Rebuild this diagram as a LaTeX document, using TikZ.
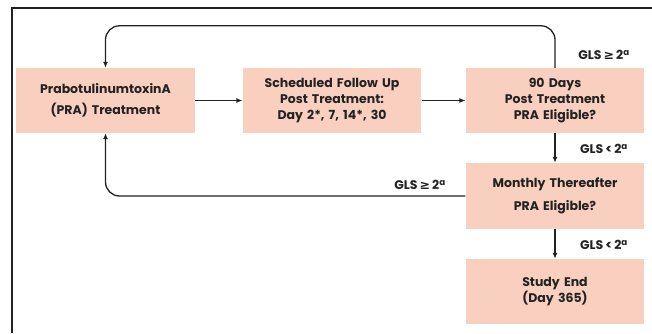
\documentclass[tikz,border=0pt]{standalone}
\usepackage{fontspec}
\setmainfont{Poppins}
\newfontfamily\symfont{DejaVu Sans}
\usetikzlibrary{arrows.meta}
\definecolor{boxfill}{RGB}{249,207,191}
\definecolor{ink}{RGB}{34,34,34}
\newcommand{\gls}[1]{GLS\,#1\,2\textsuperscript{a}}

\begin{document}
\begin{tikzpicture}
        [x=1pt,y=1pt,
         box/.style={fill=boxfill,draw=none,minimum width=174pt,minimum height=65pt,
           align=center,text width=172pt,font=\fontsize{12.5}{16}\selectfont\bfseries,text=ink},
         flow/.style={draw=ink,line width=1.3pt,-{Latex[length=6pt,width=5pt]}},
         cond/.style={font=\fontsize{12.5}{14}\selectfont\bfseries,text=ink}]

        \useasboundingbox (0,0) rectangle (652,333);
        \draw[ink,line width=1.5pt] (12,0) -- (12,325) -- (652,325);

        \node[box] (pra) at (105.5,232.5) {PrabotulinumtoxinA\\[5pt](PRA) Treatment};
        \node[box] (sched) at (332,232.5) {Scheduled Follow Up\\Post Treatment:\\Day 2*, 7, 14*, 30};
        \node[box] (day90) at (555,232.5) {90 Days\\Post Treatment\\PRA Eligible?};
        \node[box,minimum height=66pt] (monthly) at (555,137) {Monthly Thereafter\\[7pt]PRA Eligible?};
        \node[box] (studyend) at (555,41.5) {Study End\\(Day 365)};

        \node[cond] (geA) at (604,278) {\gls{{\symfont ≥}}};
        \node[cond] (ltA) at (604,184) {\gls{<}};
        \node[cond] (geB) at (420,148) {\gls{{\symfont ≥}}};
        \node[cond] (ltB) at (604,88) {\gls{<}};

        \draw[flow] (pra) -- (sched);
        \draw[flow] (sched) -- (day90);
        \draw[flow,rounded corners=14pt] (day90.north) |- ([yshift=42pt]pra.north) -- (pra.north);
        \draw[flow] (day90) -- (monthly);
        \draw[flow,rounded corners=14pt] (monthly.west) -| (pra.south);
        \draw[flow] (monthly) -- (studyend);
      \end{tikzpicture}
\end{document}
